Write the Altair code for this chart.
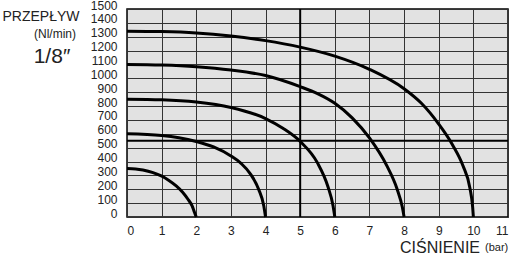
import altair as alt
import pandas as pd

# pressure (bar) / flow (Nl/min), one curve per supply pressure
p2 = [0, 0.25, 0.46, 0.75, 0.99, 1.2, 1.42, 1.6, 1.76, 1.88, 1.95, 2.0]
f2 = [350, 347, 339, 320, 296, 265, 224, 180, 128, 80, 32, 0]

p4 = [0, 1, 1.5, 2, 2.5, 3, 3.3, 3.55, 3.8, 3.95, 4.0]
f4 = [600, 588, 572, 545, 505, 440, 385, 315, 200, 80, 0]

p6 = [0, 1, 2, 3, 4, 4.5, 5, 5.5, 5.8, 5.95, 6.0]
f6 = [850, 846, 830, 790, 710, 640, 545, 390, 220, 80, 0]

p8 = [0, 1, 2, 3, 4, 5, 5.5, 6, 6.5, 7, 7.5, 7.8, 7.95, 8.0]
f8 = [1100, 1096, 1084, 1060, 1020, 940, 890, 820, 715, 570, 370, 200, 70, 0]

p10 = [0, 1, 2, 3, 4, 5, 6, 7, 8, 8.5, 9, 9.4, 9.7, 9.9, 9.98, 10.0]
f10 = [1340, 1337, 1327, 1305, 1272, 1225, 1160, 1065, 925, 820, 670, 520, 370, 210, 70, 0]

x_ticks = list(range(0, 12))
y_ticks = list(range(0, 1600, 100))
ref_x = [5]
ref_y = [550]

rows = []
for name, ps, fs in [("2", p2, f2), ("4", p4, f4), ("6", p6, f6), ("8", p8, f8), ("10", p10, f10)]:
    for i, (p, f) in enumerate(zip(ps, fs)):
        rows.append({"curve": name, "order": i, "p": p, "f": f})
df = pd.DataFrame(rows)

xs = alt.Scale(domain=[0, 11], nice=False, zero=False)
ys = alt.Scale(domain=[0, 1500], nice=False)
xaxis = alt.Axis(values=x_ticks, format="d", title=None, tickSize=0, labelPadding=8,
                 labelFontSize=12, labelColor="#222", labelFont="Liberation Sans",
                 domain=False, gridColor="#333", gridWidth=1, gridOpacity=1)
yaxis = alt.Axis(values=y_ticks, format="d", title=None, tickSize=0, labelPadding=10,
                 labelFontSize=12, labelColor="#222", labelFont="Liberation Sans",
                 labelOffset=-4, domain=False, gridColor="#333", gridWidth=1, gridOpacity=1)

base = alt.Chart(df).mark_line(color="black", strokeWidth=3, interpolate="monotone").encode(
    x=alt.X("p:Q", scale=xs, axis=xaxis),
    y=alt.Y("f:Q", scale=ys, axis=yaxis),
    detail="curve:N",
    order="order:Q",
)

vref = alt.Chart(pd.DataFrame({"p": ref_x})).mark_rule(color="black", strokeWidth=2).encode(
    x=alt.X("p:Q", scale=xs, axis=xaxis))
href = alt.Chart(pd.DataFrame({"f": ref_y})).mark_rule(color="black", strokeWidth=2).encode(
    y=alt.Y("f:Q", scale=ys, axis=yaxis))

def label(txt, x, y, size, align="center"):
    return alt.Chart(pd.DataFrame({"t": [txt]})).mark_text(
        fontSize=size, font="Liberation Sans", color="#222", align=align, baseline="middle"
    ).encode(text="t:N", x=alt.value(x), y=alt.value(y))

texts = [
    label("PRZEPŁYW", -86, 8, 14),
    label("(Nl/min)", -72, 25, 12),
    label("1/8″", -75, 48, 21),
    label("CIŚNIENIE", 273, 239, 16, "left"),
    label("(bar)", 358, 239, 11, "left"),
]

chart = alt.layer(base, vref, href, *texts).properties(
    width=381, height=208,
    autosize=alt.AutoSizeParams(type="none"),
    padding={"left": 127, "top": 9, "right": 4, "bottom": 39},
).configure_view(fill="#e2e2e2", stroke="black", strokeWidth=1.5)

chart.save("out.html", embed_options={"renderer": "svg", "actions": False})
